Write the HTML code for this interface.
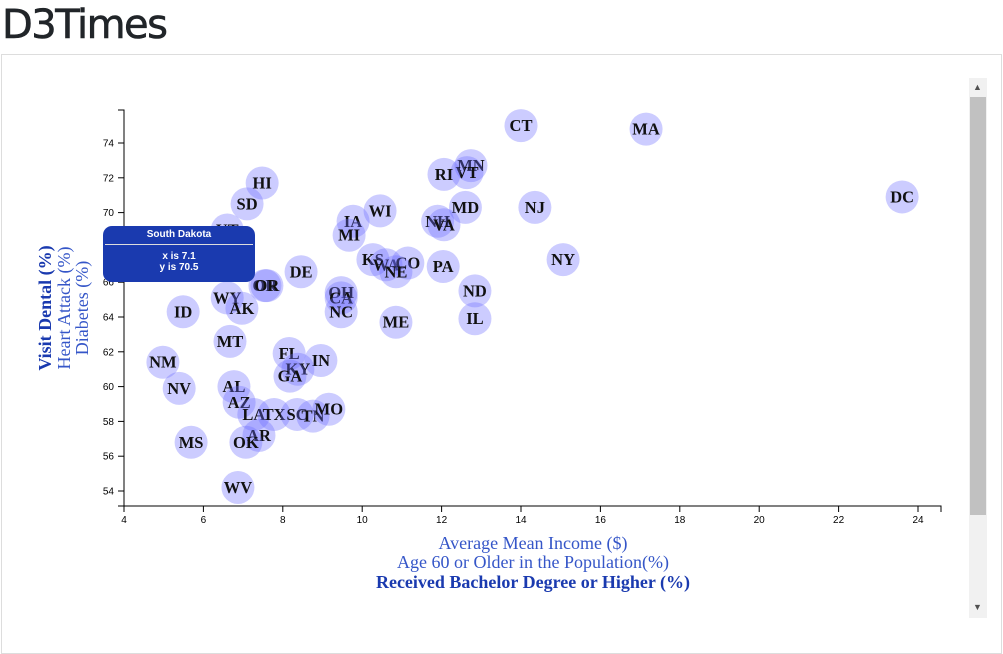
<!DOCTYPE html>
<html><head><meta charset="utf-8"><style>
body{margin:0;width:1003px;height:624px;overflow:hidden;background:#fff;font-family:"Liberation Sans",sans-serif;}
h1{position:absolute;left:2px;top:2px;margin:0;font-size:40px;font-weight:normal;color:#212529;font-family:"DejaVu Sans","Liberation Sans",sans-serif;letter-spacing:-1.5px;-webkit-text-stroke:0.6px #212529;}
#box{position:absolute;left:1px;top:54px;width:1001px;height:600px;border:1px solid #ddd;box-sizing:border-box;}
#sb{position:absolute;left:969px;top:78px;width:18px;height:540px;background:#f1f1f1;}
#thumb{position:absolute;left:970px;top:97px;width:16px;height:418px;background:#c1c1c1;}
.arr{position:absolute;left:973px;font-size:9px;color:#505050;}
#tip{position:absolute;left:103px;top:226px;width:152px;height:56px;background:#1a3aaf;border-radius:9px;color:#fff;font-size:10px;font-weight:bold;text-align:center;}
</style></head><body>
<h1>D3Times</h1>
<div id="box"></div>
<svg id="chart" width="1003" height="624" style="position:absolute;left:0;top:0"></svg>
<div id="sb"></div>
<div id="thumb"></div>
<div class="arr" style="top:82px">▲</div>
<div class="arr" style="top:602px">▼</div>
<div id="tip">
<div style="padding-top:3px;height:13px">South Dakota</div>
<div style="border-top:1px solid #ddd;margin:2px 2px 0"></div>
<div style="padding-top:6px;line-height:11px">x is 7.1<br>y is 70.5</div>
</div>
<script>
const abbr=["CT","MA","MN","VT","RI","HI","SD","DC","NJ","MD","WI","IA","NH","VA","MI","UT","NY","KS","WA","CO","NE","PA","DE","OR","OR","OH","CA","ND","IL","NC","ME","WY","AK","ID","MT","NM","FL","IN","KY","GA","NV","AL","AZ","LA","TX","SC","TN","MO","AR","OK","MS","WV"];
const xs=[14.0,17.15,12.74,12.64,12.06,7.48,7.1,23.6,14.35,12.6,10.45,9.77,11.9,12.06,9.67,6.6,15.06,10.27,10.6,11.15,10.85,12.04,8.46,7.55,7.6,9.47,9.47,12.84,12.84,9.47,10.85,6.6,6.97,5.49,6.67,4.98,8.16,8.96,8.38,8.18,5.39,6.77,6.9,7.27,7.78,8.36,8.76,9.16,7.4,7.07,5.69,6.87];
const ys=[75.0,74.8,72.7,72.3,72.2,71.7,70.5,70.9,70.3,70.3,70.1,69.5,69.5,69.3,68.7,69.0,67.3,67.3,67.0,67.1,66.6,66.9,66.6,65.8,65.8,65.4,65.1,65.5,63.9,64.3,63.7,65.1,64.5,64.3,62.6,61.4,61.9,61.5,61.0,60.6,59.9,60.0,59.1,58.4,58.4,58.4,58.3,58.7,57.2,56.8,56.8,54.2];
const xTicks=[4,6,8,10,12,14,16,18,20,22,24];
const yTicks=[54,56,58,60,62,64,66,68,70,72,74];
const X=v=>124+(v-4)*39.7, Y=v=>491-(v-54)*17.4;
const s=document.getElementById('chart'),NS="http://www.w3.org/2000/svg";
function mk(t,a,p){const e=document.createElementNS(NS,t);for(const k in a)e.setAttribute(k,a[k]);(p||s).appendChild(e);return e;}
const ax=mk('g',{});

mk('path',{d:'M124,512V506H941V512',fill:'none',stroke:'#000'},ax);
xTicks.forEach(t=>{mk('line',{x1:X(t),x2:X(t),y1:506,y2:512,stroke:'#000'},ax);const e=mk('text',{x:X(t),y:523,'text-anchor':'middle','font-size':10},ax);e.textContent=t;});
const ay=mk('g',{});

mk('path',{d:'M118,110H124V506H118',fill:'none',stroke:'#000'},ay);
yTicks.forEach(t=>{mk('line',{x1:118,x2:124,y1:Y(t),y2:Y(t),stroke:'#000'},ay);const e=mk('text',{x:114,y:Y(t)+3.5,'text-anchor':'end','font-size':10},ay);e.textContent=t;});
abbr.forEach((a,i)=>{
 const g=mk('g',{});
 
 
 mk('circle',{cx:X(xs[i]),cy:Y(ys[i]),r:16.5,fill:'rgba(110,110,255,0.35)'},g);
 const t=mk('text',{x:X(xs[i]),y:Y(ys[i])+5.5,'text-anchor':'middle','font-family':'Liberation Serif,serif','font-weight':'bold','font-size':16.5,fill:'#111'},g);t.textContent=a;
});
const xl=[["Average Mean Income ($)",549,'normal','#3556c8','average-income-label'],["Age 60 or Older in the Population(%)",568,'normal','#3556c8','age-label'],["Received Bachelor Degree or Higher (%)",588,'bold','#1a3aaf','education-label']];
xl.forEach(l=>{const e=mk('text',{x:533,y:l[1],'text-anchor':'middle','font-family':'Liberation Serif,serif','font-size':18,'font-weight':l[2],fill:l[3]});e.textContent=l[0];});
const yl=[["Visit Dental (%)",51,'bold','#1a3aaf','dental-label'],["Heart Attack (%)",70,'normal','#3556c8','heart-attack-label'],["Diabetes (%)",88,'normal','#3556c8','diabetes-label']];
yl.forEach(l=>{const e=mk('text',{x:0,y:0,transform:`translate(${l[1]},308) rotate(-90)`,'text-anchor':'middle','font-family':'Liberation Serif,serif','font-size':18,'font-weight':l[2],fill:l[3]});e.textContent=l[0];});
</script>
</body></html>
